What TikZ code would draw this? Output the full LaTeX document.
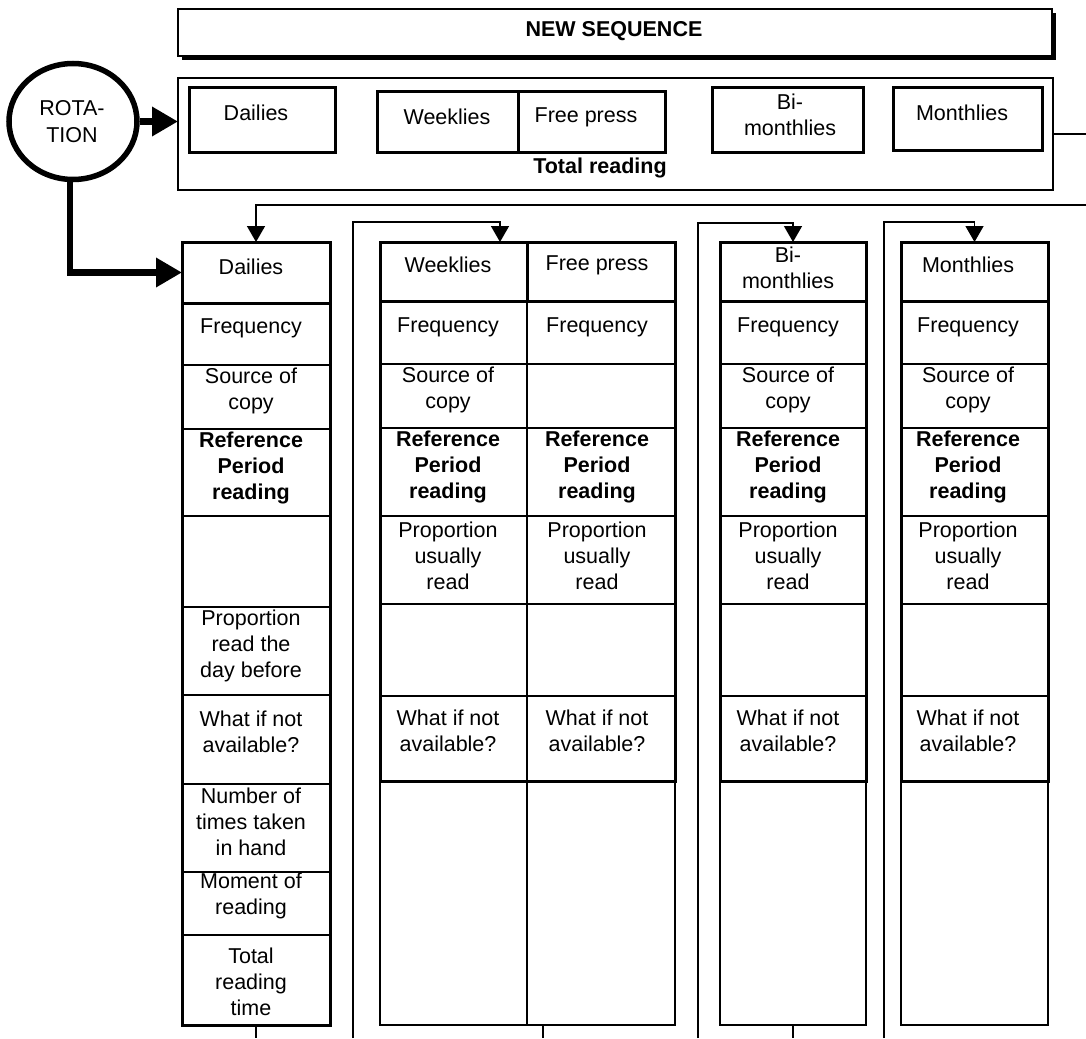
\documentclass[tikz,border=0pt]{standalone}
\usepackage{fontspec}
\setmainfont{Liberation Sans}
\usetikzlibrary{arrows.meta,shapes.geometric,calc}
\newcommand\bx[6]{\node[#2, minimum width={(#5-#3)*1pt}, minimum height={(#6-#4)*1pt}] (#1) at ({(#3+#5)/2},{(#4+#6)/2}) {};}
\tikzset{
  thinbox/.style={draw, line width=1.4pt, inner sep=0pt, outer sep=0pt},
  midbox/.style={draw, line width=1.9pt, inner sep=0pt, outer sep=0pt},
  thickbox/.style={draw, line width=3pt, inner sep=0pt, outer sep=0pt},
  txt/.style={font=\fontsize{21.5}{26}\selectfont, align=center, inner sep=0pt},
  btxt/.style={font=\fontsize{21.5}{26}\selectfont\bfseries, align=center, inner sep=0pt},
  conn/.style={line width=1.5pt},
  arr/.style={line width=1.5pt, -{Triangle[length=16pt,width=18pt]}},
  bigarr/.style={line width=6.5pt, -{Triangle[length=26pt,width=28pt]}},
}
\begin{document}
\begin{tikzpicture}[x=1pt,y=-1pt]
\useasboundingbox (0,0) rectangle (1086,1038);
\fill[white] (0,0) rectangle (1086,1038);

% ---------- NEW SEQUENCE ----------
\fill[black] (182,13) rectangle (1056,60);
\bx{ns}{thinbox,fill=white}{178}{9}{1052}{56}
\node[btxt] (nst) at (614,31) {NEW SEQUENCE};

% ---------- ROTATION ----------
\node[draw, ellipse, line width=5.5pt, minimum width=128pt, minimum height=116pt, inner sep=0pt] (rot) at (73,121.5) {};
\node[txt, font=\fontsize{21.5}{27}\selectfont] (rott) at (72,122) {ROTA-\\TION};

% ---------- top group ----------
\bx{grp}{thinbox}{178}{78}{1053}{190}
\bx{tD}{thickbox}{189}{88}{335}{152}
\bx{tW}{thickbox}{377}{92}{518}{152}
\bx{tF}{thickbox}{518}{92}{665}{152}
\bx{tB}{thickbox}{712}{88}{863}{152}
\bx{tM}{thickbox}{893}{88}{1042}{150}
\node[txt] (tDt) at (256,113) {Dailies};
\node[txt] (tWt) at (447,117) {Weeklies};
\node[txt] (tFt) at (586,117) {Free press};
\node[txt] (tBt) at (790,115) {Bi-\\monthlies};
\node[txt] (tMt) at (962,113) {Monthlies};
\node[btxt] (trt) at (600,168) {Total reading};

% ---------- Dailies column ----------
\bx{d1}{midbox}{182}{303}{330}{365}
\bx{d2}{midbox}{182}{365}{330}{429}
\bx{d3}{midbox}{182}{429}{330}{516}
\bx{d4}{midbox}{182}{516}{330}{607}
\bx{d5}{midbox}{182}{607}{330}{695}
\bx{d6}{midbox}{182}{695}{330}{784}
\bx{d7}{midbox}{182}{784}{330}{872}
\bx{d8}{midbox}{182}{872}{330}{935}
\bx{d9}{midbox}{182}{935}{330}{1025}
\bx{dh}{thickbox}{182}{242}{330}{303}
\bx{dcol}{thickbox}{182}{242}{330}{1025}
\node[txt] (dht) at (251,267) {Dailies};
\node[txt] (d1t) at (251,328) {Frequency};
\node[txt] (d2t) at (251,391) {Source of\\copy};
\node[btxt] (d3t) at (251,468) {Reference\\Period\\reading};
\node[txt] (d5t) at (251,646) {Proportion\\read the\\day before};
\node[txt] (d6t) at (251,732) {What if not\\available?};
\node[txt] (d7t) at (251,822) {Number of\\times taken\\in hand};
\node[txt] (d8t) at (251,896) {Moment of\\reading};
\node[txt] (d9t) at (251,982) {Total\\reading\\time};

% ---------- Weeklies / Free press ----------
\bx{w1}{midbox}{380}{301}{527}{364}
\bx{w2}{midbox}{380}{364}{527}{428}
\bx{w3}{midbox}{380}{428}{527}{516}
\bx{w4}{midbox}{380}{516}{527}{604}
\bx{w5}{thinbox}{380}{604}{527}{696}
\bx{w6}{midbox}{380}{696}{527}{781}
\bx{w7}{thinbox}{380}{781}{527}{1025}
\bx{f1}{midbox}{527}{301}{675}{364}
\bx{f2}{midbox}{527}{364}{675}{428}
\bx{f3}{midbox}{527}{428}{675}{516}
\bx{f4}{midbox}{527}{516}{675}{604}
\bx{f5}{thinbox}{527}{604}{675}{696}
\bx{f6}{midbox}{527}{696}{675}{781}
\bx{f7}{thinbox}{527}{781}{675}{1025}
\bx{wh}{thickbox}{380}{242}{527}{301}
\bx{fh}{thickbox}{527}{242}{675}{301}
\bx{wcol}{thickbox}{380}{242}{675}{781}
\node[txt] (wht) at (448,265) {Weeklies};
\node[txt] (fht) at (597,265) {Free press};
\node[txt] (w1t) at (448,327) {Frequency};
\node[txt] (f1t) at (597,327) {Frequency};
\node[txt] (w2t) at (448,390) {Source of\\copy};
\node[btxt] (w3t) at (448,467) {Reference\\Period\\reading};
\node[btxt] (f3t) at (597,467) {Reference\\Period\\reading};
\node[txt] (w4t) at (448,556) {Proportion\\usually\\read};
\node[txt] (f4t) at (597,556) {Proportion\\usually\\read};
\node[txt] (w6t) at (448,731) {What if not\\available?};
\node[txt] (f6t) at (597,731) {What if not\\available?};

% ---------- Bi-monthlies ----------
\bx{b1}{midbox}{720}{301}{866}{364}
\bx{b2}{midbox}{720}{364}{866}{428}
\bx{b3}{midbox}{720}{428}{866}{516}
\bx{b4}{midbox}{720}{516}{866}{604}
\bx{b5}{thinbox}{720}{604}{866}{696}
\bx{b6}{midbox}{720}{696}{866}{781}
\bx{b7}{midbox}{720}{781}{866}{1025}
\bx{bh}{thickbox}{720}{242}{866}{301}
\bx{bcol}{thickbox}{720}{242}{866}{781}
\node[txt] (bht) at (788,268) {Bi-\\monthlies};
\node[txt] (b1t) at (788,327) {Frequency};
\node[txt] (b2t) at (788,390) {Source of\\copy};
\node[btxt] (b3t) at (788,467) {Reference\\Period\\reading};
\node[txt] (b4t) at (788,556) {Proportion\\usually\\read};
\node[txt] (b6t) at (788,731) {What if not\\available?};

% ---------- Monthlies ----------
\bx{m1}{midbox}{901}{301}{1048}{364}
\bx{m2}{midbox}{901}{364}{1048}{428}
\bx{m3}{midbox}{901}{428}{1048}{516}
\bx{m4}{midbox}{901}{516}{1048}{604}
\bx{m5}{thinbox}{901}{604}{1048}{696}
\bx{m6}{midbox}{901}{696}{1048}{781}
\bx{m7}{midbox}{901}{781}{1048}{1025}
\bx{mh}{thickbox}{901}{242}{1048}{301}
\bx{mcol}{thickbox}{901}{242}{1048}{781}
\node[txt] (mht) at (968,265) {Monthlies};
\node[txt] (m1t) at (968,327) {Frequency};
\node[txt] (m2t) at (968,390) {Source of\\copy};
\node[btxt] (m3t) at (968,467) {Reference\\Period\\reading};
\node[txt] (m4t) at (968,556) {Proportion\\usually\\read};
\node[txt] (m6t) at (968,731) {What if not\\available?};

% ---------- connectors ----------
\draw[bigarr] (rot.east) -- (rot.east -| grp.west);
\draw[bigarr] ([xshift=-3pt]rot.south) |- (dh.west);

\coordinate (rightout) at (1086,134);
\draw[conn] (grp.east) -- (rightout);

\coordinate (fbin) at (1086,205);
\draw[arr] (fbin) -| (dh.north);

\coordinate (wbot) at (353,1038);
\coordinate (wturn) at (500,222);
\draw[arr] (wbot) |- (wturn) -- (wturn |- wh.north);

\coordinate (bbot) at (698,1038);
\coordinate (bturn) at (793,223);
\draw[arr] (bbot) |- (bturn) -- (bh.north);

\coordinate (mbot) at (884,1038);
\coordinate (mturn) at (974.5,222);
\draw[arr] (mbot) |- (mturn) -- (mh.north);

\coordinate (dout) at (256,1038);
\draw[conn] (dcol.south) -- (dout);
\coordinate (wout) at (543,1038);
\draw[conn] (wout |- f7.south) -- (wout);
\coordinate (bout) at (793,1038);
\draw[conn] (b7.south) -- (bout);
\end{tikzpicture}
\end{document}
